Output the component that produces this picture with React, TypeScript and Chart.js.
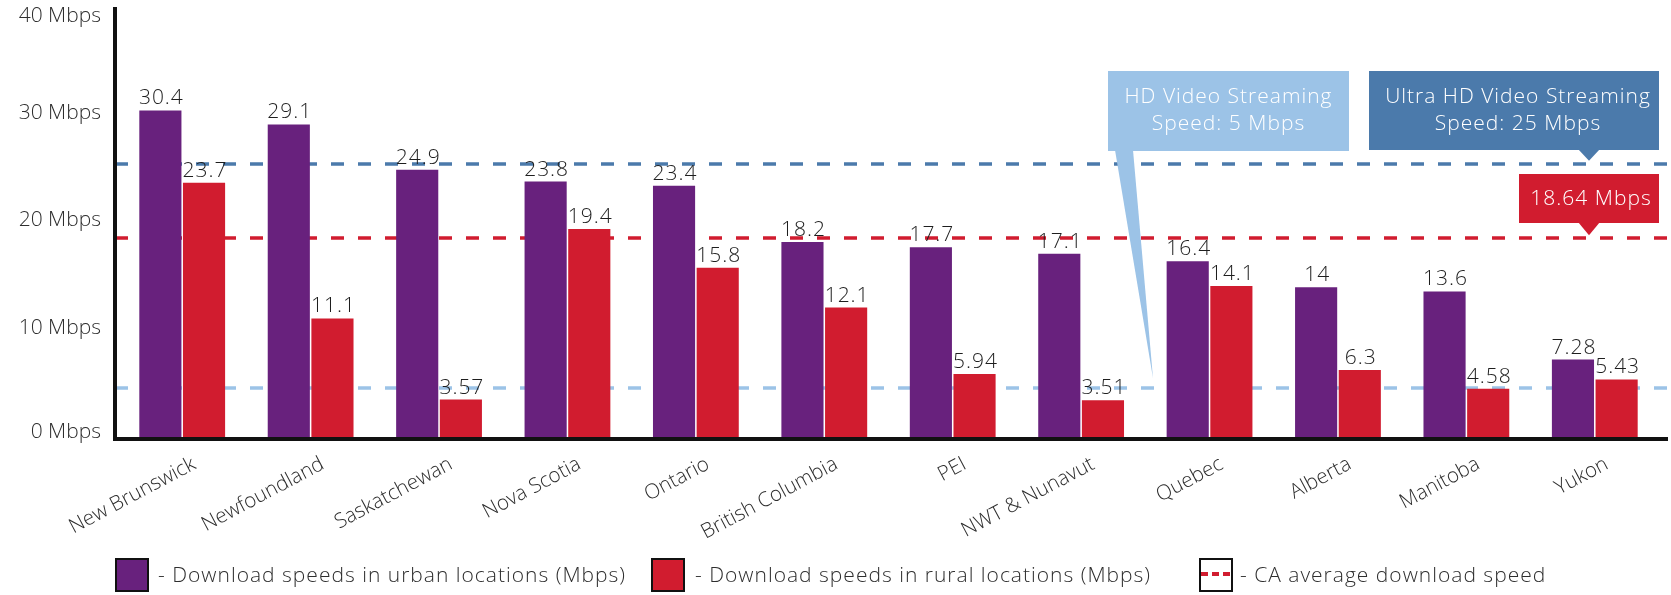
import React, { useEffect, useRef } from "react";
import { Chart, registerables } from "chart.js";

Chart.register(...registerables);

const provinces = [
  "New Brunswick",
  "Newfoundland",
  "Saskatchewan",
  "Nova Scotia",
  "Ontario",
  "British Columbia",
  "PEI",
  "NWT & Nunavut",
  "Quebec",
  "Alberta",
  "Manitoba",
  "Yukon",
];
const urbanSpeeds = [30.4, 29.1, 24.9, 23.8, 23.4, 18.2, 17.7, 17.1, 16.4, 14, 13.6, 7.28];
const ruralSpeeds = [23.7, 11.1, 3.57, 19.4, 15.8, 12.1, 5.94, 3.51, 14.1, 6.3, 4.58, 5.43];
const yTickValues = [0, 10, 20, 30, 40];
const yTickUnit = " Mbps";
const hdStreamingSpeed = 5;
const uhdStreamingSpeed = 25;
const caAverageSpeed = 18.64;
const hdLines = ["HD Video Streaming", "Speed: 5 Mbps"];
const uhdLines = ["Ultra HD Video Streaming", "Speed: 25 Mbps"];
const avgLabel = "18.64 Mbps";
const legendLabels = [
  "- Download speeds in urban locations (Mbps)",
  "- Download speeds in rural locations (Mbps)",
  "- CA average download speed",
];

const PURPLE = "#68217d";
const RED = "#d11c2f";
const LIGHT_BLUE = "#9cc3e7";
const STEEL_BLUE = "#4b7aab";
const TEXT = "#2e2e2e";
const FONT = "'Open Sans', Lato, sans-serif";

// small visual nudges of the reference lines, as drawn in the original
const HD_NUDGE = 4;
const UHD_NUDGE = -5;
const AVG_NUDGE = 1;

const refLinesPlugin = {
  id: "refLines",
  beforeDatasetsDraw(chart: any) {
    const { ctx, chartArea, scales } = chart;
    const y = scales.y;
    const lines = [
      { v: hdStreamingSpeed, c: LIGHT_BLUE, n: HD_NUDGE },
      { v: uhdStreamingSpeed, c: STEEL_BLUE, n: UHD_NUDGE },
      { v: caAverageSpeed, c: RED, n: AVG_NUDGE },
    ];
    ctx.save();
    ctx.lineWidth = 3.5;
    ctx.setLineDash([13, 14]);
    lines.forEach((l) => {
      const py = Math.round(y.getPixelForValue(l.v)) + l.n;
      ctx.strokeStyle = l.c;
      ctx.beginPath();
      ctx.moveTo(chartArea.left - 3, py);
      ctx.lineTo(chart.width, py);
      ctx.stroke();
    });
    ctx.restore();
  },
};

const overlayPlugin = {
  id: "overlay",
  afterDatasetsDraw(chart: any) {
    const { ctx, chartArea, scales } = chart;
    const y = scales.y;
    ctx.save();
    // y tick labels (kept inside the canvas at the ends)
    ctx.font = `300 21px ${FONT}`;
    ctx.fillStyle = TEXT;
    ctx.textAlign = "right";
    ctx.textBaseline = "middle";
    yTickValues.forEach((v) => {
      const py = Math.min(Math.max(y.getPixelForValue(v) - 2, 16), chartArea.bottom - 6);
      ctx.fillText(`${v}${yTickUnit}`, chartArea.left - 17, py);
    });

    // value labels
    (ctx as any).letterSpacing = "1px";
    ctx.font = `300 21px ${FONT}`;
    ctx.fillStyle = "#1e1e1e";
    ctx.textAlign = "center";
    ctx.textBaseline = "alphabetic";
    chart.data.datasets.forEach((ds: any, di: number) => {
      const meta = chart.getDatasetMeta(di);
      meta.data.forEach((bar: any, i: number) => {
        ctx.fillText(String(ds.data[i]), bar.x + 1, bar.y - 6);
      });
    });
    (ctx as any).letterSpacing = "0px";
    // axes
    ctx.strokeStyle = "#111";
    ctx.lineWidth = 4;
    ctx.beginPath();
    ctx.moveTo(chartArea.left - 3, chartArea.top);
    ctx.lineTo(chartArea.left - 3, chartArea.bottom + 3);
    ctx.stroke();
    ctx.beginPath();
    ctx.moveTo(chartArea.left - 5, chartArea.bottom + 1);
    ctx.lineTo(chart.width - 3, chartArea.bottom + 1);
    ctx.stroke();

    // callouts
    const W = chart.width;
    const boxRight = W - 12;
    const pointerX = boxRight - 70;
    // HD box
    const hdL = 1108, hdR = 1349, bTop = 71, bBot = 151;
    const hdTipY = y.getPixelForValue(hdStreamingSpeed) + HD_NUDGE - 10;
    ctx.fillStyle = LIGHT_BLUE;
    ctx.fillRect(hdL, bTop, hdR - hdL, bBot - bTop);
    ctx.beginPath();
    ctx.moveTo(hdL + 7, bBot - 1);
    ctx.lineTo(hdL + 25, bBot - 1);
    ctx.lineTo(hdL + 45, hdTipY);
    ctx.closePath();
    ctx.fill();
    // UHD box
    const uL = 1369;
    const uBot = 150;
    const uTipY = y.getPixelForValue(uhdStreamingSpeed) + UHD_NUDGE - 3;
    ctx.fillStyle = STEEL_BLUE;
    ctx.fillRect(uL, bTop, boxRight - uL, uBot - bTop);
    ctx.beginPath();
    ctx.moveTo(pointerX - 11, uBot - 1);
    ctx.lineTo(pointerX + 11, uBot - 1);
    ctx.lineTo(pointerX, uTipY);
    ctx.closePath();
    ctx.fill();
    // average box
    const aL = 1519, aTop = 174, aBot = 223;
    const aTipY = y.getPixelForValue(caAverageSpeed) + AVG_NUDGE - 3;
    ctx.fillStyle = RED;
    ctx.fillRect(aL, aTop, boxRight - aL, aBot - aTop);
    ctx.beginPath();
    ctx.moveTo(pointerX - 11, aBot - 1);
    ctx.lineTo(pointerX + 11, aBot - 1);
    ctx.lineTo(pointerX, aTipY);
    ctx.closePath();
    ctx.fill();

    ctx.fillStyle = "#ffffff";
    (ctx as any).letterSpacing = "1px";
    ctx.font = `300 21px ${FONT}`;
    ctx.textAlign = "center";
    ctx.textBaseline = "middle";
    ctx.fillText(hdLines[0], (hdL + hdR) / 2, 97);
    ctx.fillText(hdLines[1], (hdL + hdR) / 2, 124);
    ctx.fillText(uhdLines[0], (uL + boxRight) / 2 + 4, 97);
    ctx.fillText(uhdLines[1], (uL + boxRight) / 2 + 4, 124);
    ctx.fillText(avgLabel, (aL + boxRight) / 2 + 2, 199);
    (ctx as any).letterSpacing = "0px";
    ctx.restore();
  },
};

function LegendItem({ left, textLeft, kind, label }: any) {
  const box: any = {
    position: "absolute",
    left,
    top: 558,
    width: 30,
    height: 30,
    border: "2.5px solid #111",
    background: kind === "urban" ? PURPLE : kind === "rural" ? RED : "#fff",
    boxSizing: "content-box",
  };
  return (
    <>
      <div style={box}>
        {kind === "avg" ? (
          <svg width={30} height={30} style={{ display: "block" }}>
            <line x1={0} y1={14} x2={30} y2={14} stroke={RED} strokeWidth={4} strokeDasharray="7 4" />
          </svg>
        ) : null}
      </div>
      <div
        style={{
          position: "absolute",
          left: textLeft,
          top: 559,
          height: 30,
          lineHeight: "30px",
          fontFamily: FONT,
          fontWeight: 300,
          fontSize: 21,
          letterSpacing: "1px",
          color: TEXT,
          whiteSpace: "nowrap",
        }}
      >
        {label}
      </div>
    </>
  );
}

export default function App() {
  const canvasRef = useRef<HTMLCanvasElement | null>(null);

  useEffect(() => {
    if (!canvasRef.current) return;
    const chart = new Chart(canvasRef.current, {
      type: "bar",
      data: {
        labels: provinces,
        datasets: [
          { label: legendLabels[0], data: urbanSpeeds, backgroundColor: PURPLE, borderWidth: 0 },
          { label: legendLabels[1], data: ruralSpeeds, backgroundColor: RED, borderWidth: 0 },
        ],
      },
      options: {
        animation: false,
        responsive: false,
        devicePixelRatio: 1,
        layout: { padding: { left: 0, top: 7, right: 12, bottom: 0 } },
        datasets: { bar: { barPercentage: 0.965, categoryPercentage: 0.68 } } as any,
        plugins: {
          legend: { display: false },
          tooltip: { enabled: false },
          title: { display: false },
        },
        scales: {
          x: {
            grid: { display: false },
            border: { display: false },
            ticks: {
              autoSkip: false,
              minRotation: 28,
              maxRotation: 28,
              color: TEXT,
              padding: 6,
              labelOffset: 12,
              font: { family: FONT, size: 20.5, weight: 300 as any },
            },
            afterFit: (s: any) => {
              s.height = 157;
            },
          },
          y: {
            min: 0,
            max: 40,
            afterBuildTicks: (s: any) => {
              s.ticks = yTickValues.map((v) => ({ value: v }));
            },
            grid: { display: false },
            border: { display: false },
            ticks: { display: false },
            afterFit: (s: any) => {
              s.width = 118;
              s.paddingTop = 0;
              s.paddingBottom = 0;
            },
          },
        },
      },
      plugins: [refLinesPlugin, overlayPlugin],
    });
    return () => chart.destroy();
  }, []);

  return (
    <div style={{ position: "fixed", left: 0, top: 0, width: 1671, height: 595, background: "#fff" }}>
      <canvas ref={canvasRef} width={1671} height={595} style={{ position: "absolute", left: 0, top: 0, width: 1671, height: 595 }} />
      <LegendItem left={115} textLeft={158} kind="urban" label={legendLabels[0]} />
      <LegendItem left={651} textLeft={695} kind="rural" label={legendLabels[1]} />
      <LegendItem left={1199} textLeft={1240} kind="avg" label={legendLabels[2]} />
    </div>
  );
}
